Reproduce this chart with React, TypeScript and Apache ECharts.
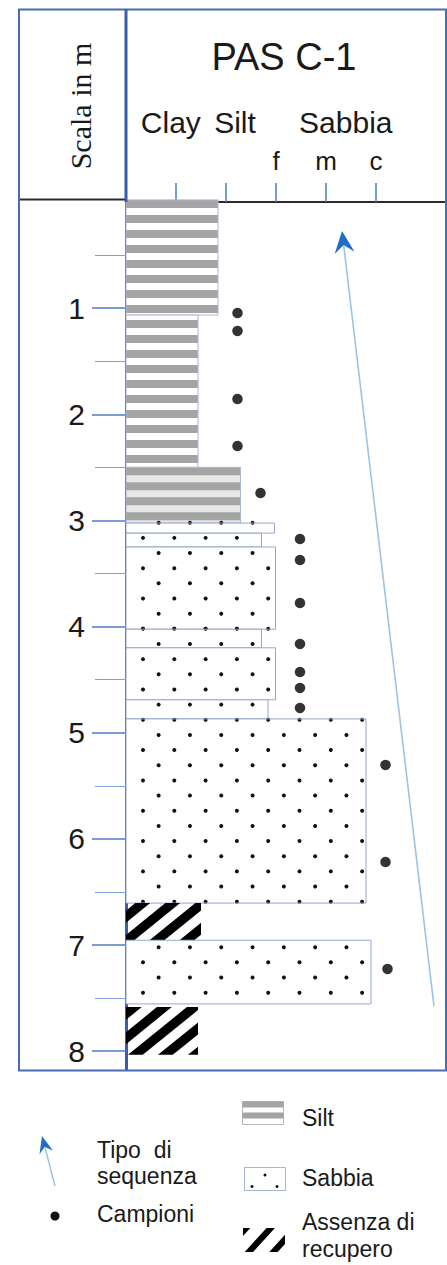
import React, { useEffect, useRef } from "react";
import * as echarts from "echarts";

// ---------- data ----------
// depth scale (m)
const depthTicks = [1, 2, 3, 4, 5, 6, 7, 8];
const depthHalfTicks = [0.5, 1.5, 2.5, 3.5, 4.5, 5.5, 6.5, 7.5];
// grain-size scale: 1 clay, 2 silt, 3 fine sand, 4 medium sand, 5 coarse sand
const grainTicks = [1, 2, 3, 4, 5];
const grainLabelValues = [3, 4, 5];
const grainLabels = ["f", "m", "c"];
const grainHeaders = ["Clay", "Silt", "Sabbia"];

// lithological layers
const layerTop = [-0.02, 1.065, 2.5, 3.025, 3.12, 3.25, 4.025, 4.2, 4.69, 4.87, 6.605, 6.955, 7.585];
const layerBottom = [1.065, 2.5, 3.025, 3.12, 3.25, 4.025, 4.2, 4.69, 4.87, 6.605, 6.955, 7.555, 8.035];
const layerGrain = [1.84, 1.44, 2.29, 2.97, 2.71, 2.99, 2.71, 2.99, 2.84, 4.8, 1.5, 4.9, 1.44];
const layerLitho = [
  "silt", "silt", "siltLight", "sand", "sand", "sand", "sand", "sand", "sand", "sand",
  "noRecovery", "sand", "noRecovery",
];
const lithoKinds = ["silt", "siltLight", "sand", "noRecovery"];

// samples (Campioni)
const sampleDepth = [1.046, 1.215, 1.856, 2.299, 2.742, 3.175, 3.373, 3.778, 4.164, 4.428, 4.578, 4.767, 5.304, 6.218, 7.226];
const sampleGrain = [2.23, 2.23, 2.23, 2.23, 2.69, 3.48, 3.48, 3.48, 3.48, 3.48, 3.48, 3.48, 5.19, 5.19, 5.23];

// sequence arrow (Tipo di sequenza): [grain, depth]
const sequenceFrom = [6.16, 7.575];
const sequenceTo = [4.32, 0.273];

// legend entries
const legendLeft = ["Tipo  di\nsequenza", "Campioni"];
const legendRight = ["Silt", "Sabbia", "Assenza di\nrecupero"];

const SANS = "'Liberation Sans', Arial, Helvetica, sans-serif";
const SERIF = "'Liberation Serif', 'Times New Roman', serif";
const BLUE = "#4a6cb4";
const DARK_BLUE = "#3a5caa";
const TICK_BLUE = "#5079c4";
const BORDER = "#97a6cc";

function clipHalf(poly: number[][], m: number, b: number, keepGreater: boolean) {
  const out: number[][] = [];
  for (let i = 0; i < poly.length; i++) {
    const a = poly[i];
    const c = poly[(i + 1) % poly.length];
    const fa = m * a[0] + a[1] - b;
    const fc = m * c[0] + c[1] - b;
    const ina = keepGreater ? fa >= 0 : fa <= 0;
    const inc = keepGreater ? fc >= 0 : fc <= 0;
    if (ina) out.push(a);
    if (ina !== inc) {
      const t = fa / (fa - fc);
      out.push([a[0] + (c[0] - a[0]) * t, a[1] + (c[1] - a[1]) * t]);
    }
  }
  return out;
}

function hatchPolys(x0: number, y0: number, x1: number, y1: number, m: number, b0: number, period: number, half: number) {
  const rect = [[x0, y0], [x1, y0], [x1, y1], [x0, y1]];
  const bmin = m * x0 + y0;
  const bmax = m * x1 + y1;
  const k0 = Math.floor((bmin - half - b0) / period);
  const k1 = Math.ceil((bmax + half - b0) / period);
  const res: number[][][] = [];
  for (let k = k0; k <= k1; k++) {
    const bc = b0 + k * period;
    let p = clipHalf(rect, m, bc - half, true);
    if (p.length < 3) continue;
    p = clipHalf(p, m, bc + half, false);
    if (p.length >= 3) res.push(p);
  }
  return res;
}

function chevron(tip: number[], from: number[], L: number, H: number, N: number) {
  const dx = tip[0] - from[0];
  const dy = tip[1] - from[1];
  const len = Math.hypot(dx, dy);
  const ux = dx / len;
  const uy = dy / len;
  const nx = -uy;
  const ny = ux;
  const base = [tip[0] - ux * L, tip[1] - uy * L];
  const notch = [tip[0] - ux * N, tip[1] - uy * N];
  return {
    notch,
    points: [tip, [base[0] + nx * H, base[1] + ny * H], notch, [base[0] - nx * H, base[1] - ny * H]],
  };
}

function renderLayer(_params: any, api: any) {
  const top = api.value(0);
  const bot = api.value(1);
  const grain = api.value(2);
  const kind = lithoKinds[api.value(3)];
  const o = api.coord([0, 0]);
  const a = api.coord([0, top]);
  const b = api.coord([grain, bot]);
  const x0 = a[0];
  const y0 = a[1];
  const x1 = b[0];
  const y1 = b[1];
  const w = x1 - x0;
  const h = y1 - y0;
  const children: any[] = [];
  if (kind === "silt" || kind === "siltLight") {
    const light = kind === "siltLight";
    children.push({ type: "rect", shape: { x: x0, y: y0, width: w, height: h }, style: { fill: light ? "#e7e7e7" : "#ffffff" } });
    const start = light ? y0 : o[1] - 2;
    for (let k = Math.floor((y0 - start) / 15) - 1; start + k * 15 < y1; k++) {
      const s = Math.max(y0, start + k * 15);
      const e = Math.min(y1, start + k * 15 + 8);
      if (e > s) children.push({ type: "rect", shape: { x: x0, y: s, width: w, height: e - s }, style: { fill: "#a4a4a4" } });
    }
    children.push({ type: "rect", shape: { x: x0, y: y0, width: w, height: h }, style: { fill: "none", stroke: "#aab6d6", lineWidth: 1 } });
  } else if (kind === "sand") {
    children.push({ type: "rect", shape: { x: x0, y: y0, width: w, height: h }, style: { fill: "#ffffff" } });
    const rowStep = 15.16;
    const colStep = 31.3;
    const rowBase = o[1] + 2.34;
    for (let j = Math.ceil((y0 - 1 - rowBase) / rowStep); ; j++) {
      const yy = rowBase + j * rowStep;
      if (yy > y1 + 0.5) break;
      const odd = ((j % 2) + 2) % 2 === 1;
      for (let xx = o[0] + (odd ? 32.65 : 17); xx <= x1 - 1; xx += colStep) {
        if (xx >= x0 + 4) children.push({ type: "circle", shape: { cx: xx, cy: yy, r: 2 }, style: { fill: "#111111" } });
      }
    }
    children.push({ type: "rect", shape: { x: x0, y: y0, width: w, height: h }, style: { fill: "none", stroke: BORDER, lineWidth: 1 } });
  } else {
    const m = 0.81;
    const b0 = m * o[0] + o[1] + 9.94;
    hatchPolys(x0, y0, x1, y1, m, b0, 24.3, 6).forEach((pts) => {
      children.push({ type: "polygon", shape: { points: pts }, style: { fill: "#000000" } });
    });
  }
  return { type: "group", children };
}

function renderArrow(_params: any, api: any) {
  const s = api.coord([api.value(0), api.value(1)]);
  const t = api.coord([api.value(2), api.value(3)]);
  const head = chevron(t, s, 22, 10, 14);
  return {
    type: "group",
    children: [
      { type: "line", shape: { x1: s[0], y1: s[1], x2: head.notch[0], y2: head.notch[1] }, style: { stroke: "#9cc4e6", lineWidth: 1.6 } },
      { type: "polygon", shape: { points: head.points }, style: { fill: "#1f6fc5" } },
    ],
  };
}

export default function App() {
  const ref = useRef<HTMLDivElement>(null);

  useEffect(() => {
    if (!ref.current) return;
    const chart = echarts.init(ref.current, null, { renderer: "svg" });

    const layerData = layerTop.map((t, i) => [t, layerBottom[i], layerGrain[i], lithoKinds.indexOf(layerLitho[i])]);
    const sampleData = sampleDepth.map((d, i) => [sampleGrain[i], d]);

    const legendArrowTail = [55, 1186];
    const legendArrowTip = [42, 1136];
    const legendHead = chevron(legendArrowTip, legendArrowTail, 17, 7, 11);
    const legendHatch = hatchPolys(243, 1228, 285, 1252, 1.1, 1525.8, 27, 4.6);

    const txt = (text: string, x: number, y: number, size: number, align = "left", extra: any = {}) => ({
      type: "text",
      x,
      y,
      silent: true,
      style: {
        text,
        fill: "#1a1a1a",
        fontFamily: SANS,
        fontSize: size,
        align,
        verticalAlign: "middle",
        ...extra,
      },
    });

    const headerX = [170.8, 235, 345.8];

    chart.setOption({
      animation: false,
      grid: { left: 126, top: 202, width: 320, height: 867.2, containLabel: false },
      xAxis: {
        type: "value",
        position: "top",
        min: 0,
        max: 6.4,
        offset: 2.5,
        axisLine: { show: true, lineStyle: { color: "#2b2b2b", width: 2 } },
        axisTick: { show: true, customValues: grainTicks, length: 19, lineStyle: { color: TICK_BLUE, width: 1.5 } },
        axisLabel: {
          show: true,
          customValues: grainLabelValues,
          formatter: (v: number) => grainLabels[grainLabelValues.indexOf(v)] ?? "",
          margin: 26,
          fontSize: 26,
          color: "#1a1a1a",
          fontFamily: SANS,
        },
        splitLine: { show: false },
      },
      yAxis: [
        {
          type: "value",
          inverse: true,
          min: 0,
          max: 8.17,
          position: "left",
          axisLine: { show: true, lineStyle: { color: DARK_BLUE, width: 3 } },
          axisTick: { show: true, customValues: depthTicks, length: 34, lineStyle: { color: TICK_BLUE, width: 1.5 } },
          axisLabel: {
            show: true,
            customValues: depthTicks,
            margin: 41,
            fontSize: 30,
            color: "#1a1a1a",
            fontFamily: SANS,
          },
          splitLine: { show: false },
        },
        {
          type: "value",
          inverse: true,
          min: 0,
          max: 8.17,
          position: "left",
          axisLine: { show: false },
          axisTick: { show: true, customValues: depthHalfTicks, length: 31, lineStyle: { color: "#7e9fd8", width: 1 } },
          axisLabel: { show: false },
          splitLine: { show: false },
        },
      ],
      series: [
        {
          type: "custom",
          name: "litologia",
          renderItem: renderLayer,
          data: layerData,
          encode: { x: 2, y: [0, 1] },
          silent: true,
          z: 2,
        },
        {
          type: "scatter",
          name: "Campioni",
          data: sampleData,
          symbol: "circle",
          symbolSize: 10.5,
          itemStyle: { color: "#000000" },
          silent: true,
          z: 3,
        },
        {
          type: "custom",
          name: "Tipo di sequenza",
          renderItem: renderArrow,
          data: [[sequenceFrom[0], sequenceFrom[1], sequenceTo[0], sequenceTo[1]]],
          encode: { x: [0, 2], y: [1, 3] },
          silent: true,
          z: 4,
        },
      ],
      graphic: [
        // frame
        { type: "rect", silent: true, z: 10, shape: { x: 19, y: 9.5, width: 427, height: 1061 }, style: { fill: "none", stroke: BLUE, lineWidth: 2 } },
        { type: "line", silent: true, z: 10, shape: { x1: 126, y1: 9, x2: 126, y2: 202 }, style: { stroke: DARK_BLUE, lineWidth: 3 } },
        { type: "line", silent: true, z: 9, shape: { x1: 20, y1: 199.5, x2: 126, y2: 199.5 }, style: { stroke: "#2b2b2b", lineWidth: 2 } },
        // headers
        txt("PAS C-1", 284, 56.5, 38, "center"),
        txt(grainHeaders[0], headerX[0], 122, 30, "center"),
        txt(grainHeaders[1], headerX[1], 122, 30, "center"),
        txt(grainHeaders[2], headerX[2], 122, 30, "center"),
        {
          type: "text",
          x: 80,
          y: 106,
          rotation: Math.PI / 2,
          silent: true,
          style: { text: "Scala in m", fill: "#1a1a1a", fontFamily: SERIF, fontSize: 30, align: "center", verticalAlign: "middle" },
        },
        // legend: arrow
        { type: "line", silent: true, shape: { x1: legendArrowTail[0], y1: legendArrowTail[1], x2: legendHead.notch[0], y2: legendHead.notch[1] }, style: { stroke: "#9cc4e6", lineWidth: 1.5 } },
        { type: "polygon", silent: true, shape: { points: legendHead.points }, style: { fill: "#1f6fc5" } },
        txt(legendLeft[0], 97, 1163, 23, "left", { lineHeight: 26 }),
        // legend: samples
        { type: "circle", silent: true, shape: { cx: 55, cy: 1216, r: 4.5 }, style: { fill: "#111111" } },
        txt(legendLeft[1], 97, 1214, 23),
        // legend: silt
        { type: "rect", silent: true, shape: { x: 242.5, y: 1101.5, width: 41, height: 23 }, style: { fill: "#ffffff", stroke: "#b8b8b8", lineWidth: 1 } },
        { type: "rect", silent: true, shape: { x: 242.5, y: 1101.5, width: 41, height: 6 }, style: { fill: "#a4a4a4" } },
        { type: "rect", silent: true, shape: { x: 242.5, y: 1112.5, width: 41, height: 6 }, style: { fill: "#a4a4a4" } },
        txt(legendRight[0], 302, 1118, 23),
        // legend: sand
        { type: "rect", silent: true, shape: { x: 244.5, y: 1167.5, width: 41, height: 23 }, style: { fill: "#ffffff", stroke: "#a9b4cf", lineWidth: 1 } },
        { type: "circle", silent: true, shape: { cx: 252, cy: 1186.5, r: 1.5 }, style: { fill: "#111111" } },
        { type: "circle", silent: true, shape: { cx: 265, cy: 1175, r: 1.5 }, style: { fill: "#111111" } },
        { type: "circle", silent: true, shape: { cx: 277, cy: 1186.5, r: 1.5 }, style: { fill: "#111111" } },
        txt(legendRight[1], 302, 1178, 23),
        // legend: no recovery
        ...legendHatch.map((pts) => ({ type: "polygon", silent: true, shape: { points: pts }, style: { fill: "#000000" } })),
        txt(legendRight[2], 302, 1235.5, 23, "left", { lineHeight: 27 }),
      ],
    });

    return () => chart.dispose();
  }, []);

  return <div ref={ref} style={{ position: "absolute", left: 0, top: 0, width: 447, height: 1265 }} />;
}
